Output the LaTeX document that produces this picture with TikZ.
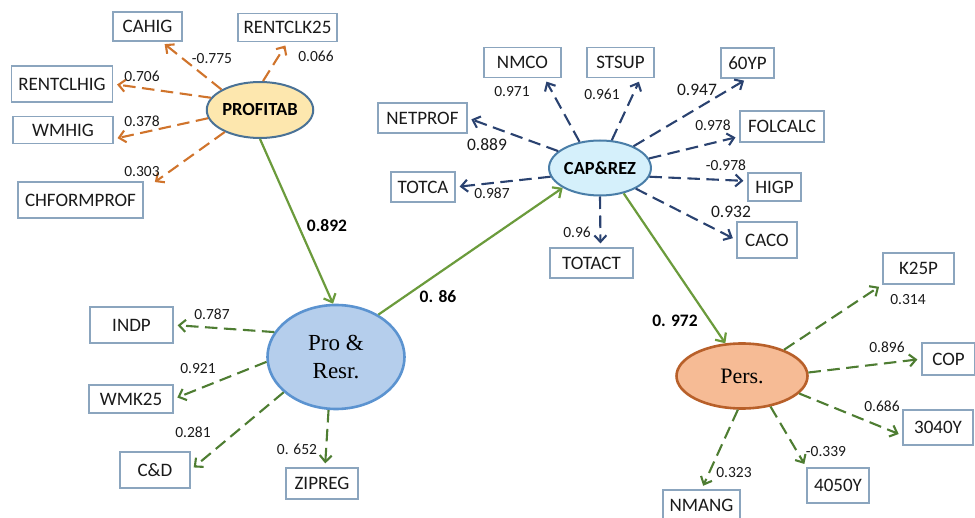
\documentclass[tikz,border=0pt]{standalone}
\usepackage{fontspec}
\setmainfont{Carlito}
\newfontfamily\timesf{Liberation Serif}
\usetikzlibrary{shapes.geometric,arrows.meta}
\definecolor{boxc}{HTML}{8BA5BE}
\definecolor{orangeA}{HTML}{D0742C}
\definecolor{navyA}{HTML}{2A4270}
\definecolor{greenD}{HTML}{4E7D32}
\definecolor{greenS}{HTML}{6B9B3C}
\definecolor{profitF}{HTML}{FDE7AE}
\definecolor{profitB}{HTML}{4A7296}
\definecolor{capF}{HTML}{D5F0FB}
\definecolor{capB}{HTML}{4A7EA8}
\definecolor{proF}{HTML}{B5CEEC}
\definecolor{proB}{HTML}{5B93D0}
\definecolor{persF}{HTML}{F6BB95}
\definecolor{persB}{HTML}{B8602A}
\definecolor{txt}{HTML}{1A1A1A}
\tikzset{
  box/.style={draw=boxc, line width=1.2pt, fill=white, inner sep=0pt, text=txt,
    font=\fontsize{19}{21}\selectfont},
  lat/.style={ellipse, inner sep=0pt, text=black},
  wt/.style={inner sep=0pt, text=txt, font=\fontsize{15.5}{17}\selectfont},
  wtb/.style={inner sep=0pt, text=txt, font=\fontsize{17.5}{19}\selectfont},
  pw/.style={inner sep=0pt, text=black, font=\bfseries\fontsize{17.5}{19}\selectfont},
  darr/.style={line width=2.1pt, dash pattern=on 12.5pt off 6.5pt,
    -{Straight Barb[length=6.5pt,width=12pt,line width=2.1pt]}, shorten >=4pt},
  oarr/.style={darr, draw=orangeA},
  narr/.style={darr, draw=navyA},
  garr/.style={darr, draw=greenD},
  sarr/.style={line width=2.2pt, draw=greenS,
    -{Straight Barb[length=7pt,width=13pt,line width=2.2pt]}},
}
\begin{document}
\begin{tikzpicture}[x=1pt,y=-1pt]
\useasboundingbox (0,0) rectangle (975,518);

% latent variables
\node[lat, draw=profitB, fill=profitF, line width=2pt, minimum width=90pt, minimum height=56pt,
  font=\bfseries\fontsize{18.5}{20}\selectfont] (profit) at (260,110) {PROFITAB};
\node[lat, draw=capB, fill=capF, line width=2pt, minimum width=100pt, minimum height=55pt,
  font=\bfseries\fontsize{18.5}{20}\selectfont] (cap) at (600,168) {CAP\&REZ};
\node[lat, draw=proB, fill=proF, line width=2.6pt, minimum width=137pt, minimum height=104pt,
  font=\timesf\fontsize{23}{28}\selectfont, align=center] (pro) at (336,357) {Pro \&\\Resr.};
\node[lat, draw=persB, fill=persF, line width=2.6pt, minimum width=131pt, minimum height=65pt,
  font=\timesf\fontsize{22}{26}\selectfont] (pers) at (742,376) {Pers.};

% indicator boxes
\node[box, minimum width=69pt, minimum height=29pt] (cahig) at (147.5,26.5) {CAHIG};
\node[box, minimum width=99pt, minimum height=28pt] (rentclk) at (287.5,27.5) {RENTCLK25};
\node[box, minimum width=101pt, minimum height=36pt] (rentclhig) at (62,84) {RENTCLHIG};
\node[box, minimum width=100pt, minimum height=27pt] (wmhig) at (63,130) {WMHIG};
\node[box, minimum width=125pt, minimum height=36pt] (chf) at (80.5,200) {CHFORMPROF};

\node[box, minimum width=77pt, minimum height=30pt] (nmco) at (522.5,62.5) {NMCO};
\node[box, minimum width=67pt, minimum height=30pt] (stsup) at (620.5,62.5) {STSUP};
\node[box, minimum width=53pt, minimum height=30pt] (yp60) at (747.5,63) {60YP};
\node[box, minimum width=89pt, minimum height=30pt] (netprof) at (422.5,118) {NETPROF};
\node[box, minimum width=84pt, minimum height=31pt] (folcalc) at (782,126.5) {FOLCALC};
\node[box, minimum width=64pt, minimum height=30pt] (totca) at (423,187) {TOTCA};
\node[box, minimum width=53pt, minimum height=28pt] (higp) at (774.5,187) {HIGP};
\node[box, minimum width=60pt, minimum height=36pt] (caco) at (767,240) {CACO};
\node[box, minimum width=83pt, minimum height=30pt] (totact) at (591.5,263) {TOTACT};

\node[box, minimum width=83pt, minimum height=36pt] (indp) at (131.5,325) {INDP};
\node[box, minimum width=84pt, minimum height=28pt] (wmk) at (131,399) {WMK25};
\node[box, minimum width=70pt, minimum height=36pt] (cd) at (155,470) {C\&D};
\node[box, minimum width=72pt, minimum height=31pt] (zip) at (322,483.5) {ZIPREG};

\node[box, minimum width=71pt, minimum height=31pt] (k25p) at (918.5,268.5) {K25P};
\node[box, minimum width=53pt, minimum height=32pt] (cop) at (948.5,359) {COP};
\node[box, minimum width=70pt, minimum height=35pt] (y3040) at (938,427.5) {3040Y};
\node[box, minimum width=62pt, minimum height=35pt] (y4050) at (838,485.5) {4050Y};
\node[box, minimum width=77pt, minimum height=30pt] (nmang) at (701.5,505) {NMANG};

% PROFITAB loadings
\draw[oarr] (profit.152) -- ([xshift=14pt]cahig.south);
\draw[oarr] (profit.84) -- (rentclk.south);
\draw[oarr] (profit.166) -- (rentclhig.east);
\draw[oarr] (profit.189) -- ([yshift=-9pt]wmhig.east);
\draw[oarr] (profit.212) -- ([shift={(8pt,-3pt)}]chf.north east);

% CAP&REZ loadings
\draw[narr] (cap.128) -- ([xshift=22pt]nmco.south);
\draw[narr] (cap.67) -- ([xshift=-14pt]stsup.south east);
\draw[narr] (cap.158) -- (netprof.east);
\draw[narr] (cap.190) -- (totca.east);
\draw[narr] (cap.-90) -- ([xshift=9pt]totact.north);
\draw[narr] (cap.33) -- (yp60.south);
\draw[narr] (cap.11) -- ([yshift=-10pt]folcalc.west);
\draw[narr] (cap.-10) -- ([yshift=6pt]higp.west);
\draw[narr] (cap.-30) -- (caco.west);

% Pro & Resr. loadings
\draw[garr] (pro.158) -- (indp.east);
\draw[garr] (pro.184) -- (wmk.east);
\draw[garr] (pro.214) -- (cd.east);
\draw[garr] (pro.262) -- ([xshift=3pt]zip.north);

% Pers. loadings
\draw[garr] (pers.32) -- (k25p.south west);
\draw[garr] (pers.3) -- (cop.west);
\draw[garr] (pers.-17) -- ([yshift=-8pt]y3040.west);
\draw[garr] (pers.-47) -- (y4050.north west);
\draw[garr] (pers.-97) -- (nmang.north);

% structural paths
\draw[sarr] (profit.south) -- ([xshift=-3pt]pro.north);
\draw[sarr] (pro.45) -- (cap.208);
\draw[sarr] (cap.-47) -- (pers.117);

% weights
\node[wt] (l1) at (212,59) {-0.775};
\node[wt] (l2) at (316,56) {0.066};
\node[wt] (l3) at (142,76) {0.706};
\node[wt] (l4) at (142,121) {0.378};
\node[wt] (l5) at (142,172) {0.303};

\node[wt] (l6) at (512,92) {0.971};
\node[wt] (l7) at (602,94) {0.961};
\node[wtb] (l8) at (487,145) {0.889};
\node[wt] (l9) at (492,193) {0.987};
\node[wt] (l10) at (577,232) {0.96};
\node[wtb] (l11) at (697,90) {0.947};
\node[wt] (l12) at (713,125) {0.978};
\node[wt] (l13) at (726,165) {-0.978};
\node[wtb] (l14) at (731,212) {0.932};

\node[wt] (l15) at (212,314) {0.787};
\node[wt] (l16) at (198,369) {0.921};
\node[wt] (l17) at (193,432) {0.281};
\node[wt] (l18) at (297,449) {0. 652};

\node[wt] (l19) at (908,300) {0.314};
\node[wt] (l20) at (887,347) {0.896};
\node[wt] (l21) at (882,406) {0.686};
\node[wt] (l22) at (826,452) {-0.339};
\node[wt] (l23) at (734,473) {0.323};

\node[pw] (p1) at (327,226) {0.892};
\node[pw] (p2) at (438,297) {0. 86};
\node[pw] (p3) at (675,321) {0. 972};
\end{tikzpicture}
\end{document}
